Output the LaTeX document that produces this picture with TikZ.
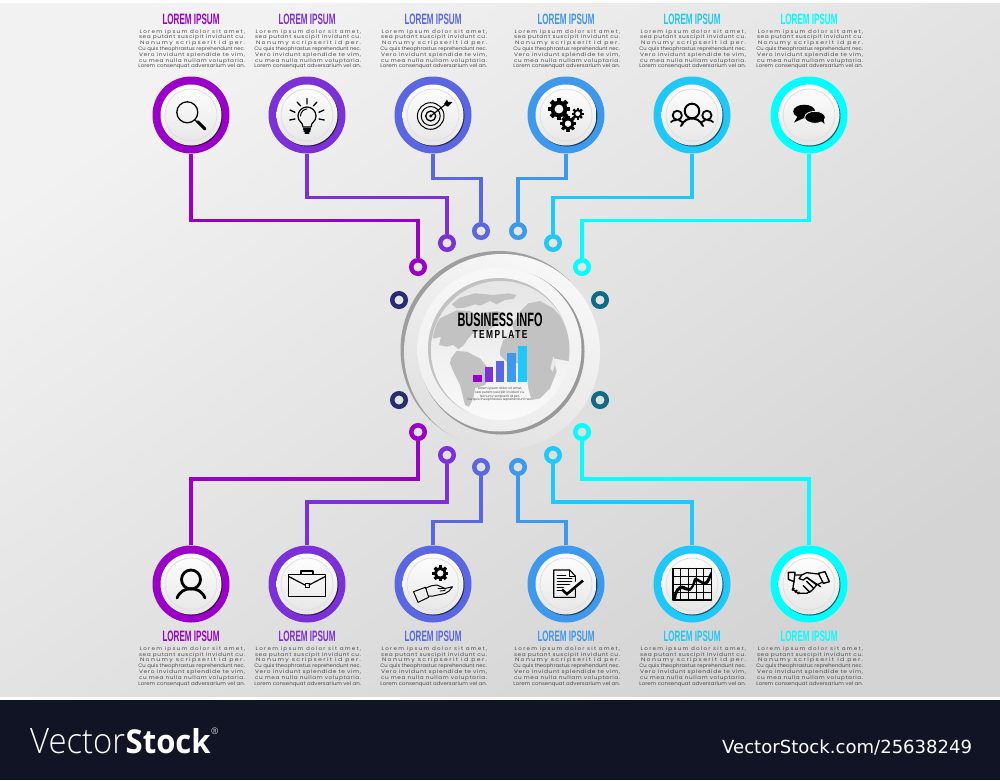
\documentclass[tikz,border=0pt]{standalone}
\usepackage{graphicx}
\usepackage{fontspec}
\setmainfont{Liberation Sans}
\newfontfamily\lsa[LetterSpace=22]{Poppins}
\newfontfamily\lsb[LetterSpace=10]{Poppins}
\newfontfamily\lsc{Poppins}
\newfontfamily\tmplfont[LetterSpace=18]{Liberation Sans}
\newfontfamily\vlight{Open Sans Light}
\newfontfamily\vbold{Open Sans}
\newfontfamily\vurl{DejaVu Sans}
\definecolor{c1}{HTML}{9B00C8}
\definecolor{c2}{HTML}{7B30D8}
\definecolor{c3}{HTML}{5A66E2}
\definecolor{c4}{HTML}{3E98EC}
\definecolor{c5}{HTML}{1EC8F8}
\definecolor{c6}{HTML}{00FFFF}
\definecolor{navyd}{HTML}{2A2C72}
\definecolor{teald}{HTML}{0F6A86}
\definecolor{band}{HTML}{111425}
\definecolor{cont}{HTML}{C2C2C2}
\definecolor{bodyt}{HTML}{4A4A4A}
\newcommand{\lline}[2]{\resizebox{108pt}{\height}{#1 #2}}
\newcommand{\loremblock}{%
\lline{\lsa}{Lorem ipsum dolor sit amet,}\\
\lline{\lsb}{sea putant suscipit invidunt cu.}\\
\lline{\lsa}{Nonumy scripserit id per.}\\
\lline{\lsc}{Cu quis theophrastus reprehendunt nec.}\\
\lline{\lsb}{Vero invidunt splendide te vim,}\\
\lline{\lsb}{cu mea nulla nullam voluptaria.}\\
\lline{\lsc}{Lorem consenquat adversarium vel an.}}
\newcommand{\headtxt}{\resizebox{57pt}{10.5pt}{\bfseries LOREM IPSUM}}
\newcommand{\badge}[4]{%
 \node[ringn,fill=#4] (#1) at (#2,#3) {};
 \fill[black,opacity=.6] (#2+.9,#3+1) circle (30.5);
 \shade[top color=white,bottom color=white!90!black] (#2,#3) circle (30.5);
 \draw[white!88!black,line width=.8pt] (#2,#3) circle (26);
}
\newcommand{\gearic}[3]{%
 \foreach \a in {0,45,...,135}{
  \fill[black,rotate around={\a:(#1,#2)}] (#1-#3*.2,#2-#3) rectangle (#1+#3*.2,#2+#3);}
 \fill[black] (#1,#2) circle (#3*.76);
 \fill[white!97!black] (#1,#2) circle (#3*.4);
}
\tikzset{
 x=1pt,y=-1pt,
 ringn/.style={circle,minimum size=77pt,inner sep=0pt},
 dotn/.style={circle,draw=#1,line width=4.5pt,minimum size=13.5pt,inner sep=0pt},
 conn/.style={draw=#1,line width=3.4pt},
 headn/.style={text=#1,inner sep=0pt,anchor=center},
 bodyn/.style={inner sep=0pt,anchor=north,align=center,text=bodyt,font=\fontsize{5}{5.83}\selectfont},
 ic/.style={draw=black,line width=1pt,line cap=round,line join=round},
}
\begin{document}
\begin{tikzpicture}
\useasboundingbox (0,0) rectangle (1000,780);
\fill[white] (0,0) rectangle (1000,780);
\shade[top color=white!95!black,bottom color=white!83!black,shading angle=35] (0,3) rectangle (1000,696);
\fill[band] (0,700) rectangle (1000,780);

% dots
\foreach \n/\x/\y/\c in {dt1/418/267/c1,dt2/447/243/c2,dt3/481/231/c3,dt4/518/231/c4,dt5/553/243/c5,dt6/582/267/c6,
 db1/418/432/c1,db2/447/455/c2,db3/481/467/c3,db4/518/467/c4,db5/553/455/c5,db6/582/432/c6,
 ds1/399/300/navyd,ds2/600/300/teald,ds3/399/400/navyd,ds4/600/400/teald}{
 \node[dotn=\c] (\n) at (\x,\y) {};
}
% badges
\foreach \n/\x/\c in {1/191/c1,2/307/c2,3/433/c3,4/566/c4,5/692/c5,6/809/c6}{
 \badge{t\n}{\x}{115}{\c}
 \badge{b\n}{\x}{584}{\c}
}
% connectors
\draw[conn=c1] (t1.south) -- ++(0,66.5) -| (dt1.north);
\draw[conn=c2] (t2.south) -- ++(0,43.5) -| (dt2.north);
\draw[conn=c3] (t3.south) -- ++(0,24.5) -| (dt3.north);
\draw[conn=c4] (t4.south) -- ++(0,24.5) -| (dt4.north);
\draw[conn=c5] (t5.south) -- ++(0,43.5) -| (dt5.north);
\draw[conn=c6] (t6.south) -- ++(0,66.5) -| (dt6.north);
\draw[conn=c1] (b1.north) -- ++(0,-66.5) -| (db1.south);
\draw[conn=c2] (b2.north) -- ++(0,-43.5) -| (db2.south);
\draw[conn=c3] (b3.north) -- ++(0,-24) -| (db3.south);
\draw[conn=c4] (b4.north) -- ++(0,-24) -| (db4.south);
\draw[conn=c5] (b5.north) -- ++(0,-43.5) -| (db5.south);
\draw[conn=c6] (b6.north) -- ++(0,-66.5) -| (db6.south);

% headings and bodies
\foreach \n/\x/\c in {1/191/c1,2/307/c2,3/433/c3,4/566/c4,5/692/c5,6/809/c6}{
 \node[headn=\c] (ht\n) at (\x,19.5) {\headtxt};
 \node[bodyn] (lt\n) at (\x,29) {\loremblock};
 \node[headn=\c] (hb\n) at (\x,636) {\headtxt};
 \node[bodyn] (lb\n) at (\x,646.3) {\loremblock};
}

% central disc
\fill[white!62!black] (499,349.5) circle (98.5);
\shade[top color=white!97!black,bottom color=white!88!black,shading angle=-30] (502,352) circle (98);
\fill[white!60!black] (501.5,351.5) circle (83);
\shade[top color=white!97!black,bottom color=white!93!black] (499.5,349.5) circle (82);
\fill[white!76!black] (498.5,348.5) circle (70.5);
\shade[top color=white!90!black,bottom color=white!98!black] (500.5,350.5) circle (69.5);
\begin{scope}
 \clip (500.5,350.5) circle (69);
 \begin{scope}[shift={(425,275)},scale=.3333]
  \fill[cont] (80,88) -- (105,68) -- (150,55) -- (205,60) -- (250,55) -- (275,60) -- (265,72) -- (240,75) -- (215,88) -- (195,78) -- (165,92) -- (150,88) -- (120,98) -- (95,100) -- cycle;
  \fill[cont] (10,190) -- (45,130) -- (95,106) -- (135,108) -- (155,125) -- (185,112) -- (215,108) -- (240,115) -- (215,150) -- (190,165) -- (150,170) -- (130,190) -- (115,212) -- (100,222) -- (85,210) -- (65,215) -- (42,210) -- (48,185) -- (30,190) -- cycle;
  \fill[cont] (78,250) -- (95,228) -- (125,230) -- (165,250) -- (190,280) -- (200,300) -- (180,330) -- (150,340) -- (145,370) -- (132,395) -- (120,390) -- (105,330) -- (85,290) -- (75,265) -- cycle;
  \fill[cont] (225,225) -- (235,195) -- (270,180) -- (262,150) -- (285,110) -- (310,85) -- (345,78) -- (385,100) -- (430,150) -- (440,260) -- (385,250) -- (395,290) -- (375,340) -- (345,370) -- (320,375) -- (310,340) -- (305,300) -- (280,265) -- (245,260) -- (225,240) -- cycle;
  \fill[white!92!black] (385,245) -- (392,262) -- (383,290) -- (376,280) -- cycle;
 \end{scope}
\end{scope}
\node[inner sep=0pt] (biz) at (500,320) {\resizebox{85pt}{13.5pt}{\bfseries BUSINESS INFO}};
\node[inner sep=0pt] (tmpl) at (500,334.5) {\resizebox{55pt}{8pt}{\tmplfont\bfseries TEMPLATE}};
\foreach \n/\xa/\xb/\yy/\c in {1/145/170/300/c1,2/180/204/277/c2,3/214/238/257/c3,4/246/272/235/c4,5/280/306/213/c5}{
 \fill[\c] (425+\xa/3,275+\yy/3) rectangle (425+\xb/3,275+320/3);
}
\node[inner sep=0pt,align=center,text=bodyt,font=\fontsize{3.2}{3.55}\selectfont\lsc] (ctxt) at (500,394.5) {Lorem ipsum dolor sit amet,\\sea putant suscipit invidunt cu.\\Nonumy scripserit id per.\\Cu quis theophrastus reprehendunt nec.};

% icons top
\begin{scope}[shift={(t1.center)}]
 \draw[ic,line width=1.3pt] (-3.7,-2.7) circle (10.5);
 \draw[ic,line width=1.2pt] (3.6,4.6) -- (6.5,7.5);
 \draw[ic,line width=3pt] (6.8,6.8) -- (14,14);
\end{scope}
\begin{scope}[shift={(t2.center)}]
 \draw[ic,line width=1.2pt] (-4,12) .. controls (-4,7) and (-9,7) .. (-9,1) .. controls (-9,-4) and (-5,-8) .. (0,-8) .. controls (5,-8) and (9,-4) .. (9,1) .. controls (9,7) and (4,7) .. (4,12) -- cycle;
 \draw[ic] (-6.5,1) .. controls (-6.5,-3) and (-3,-6) .. (0,-6);
 \draw[ic,line width=1.2pt] (-3.5,14) -- (3.5,14) (-3,16) -- (3,16) (-2,18) -- (2,18);
 \draw[ic,line width=1.3pt] (0,-16.5) -- (0,-11) (-10,-13) -- (-6.3,-9) (10,-13) -- (6.3,-9) (-17,-5) -- (-12,-2.7) (17,-5) -- (12,-2.7) (-17.3,5) -- (-12,4) (17.3,5) -- (12,4);
\end{scope}
\begin{scope}[shift={(t3.center)}]
 \draw[ic] (-2.3,1) circle (13.3) (-2.3,1) circle (9.5);
 \draw[ic,line width=1.3pt] (-2.3,1) circle (5);
 \fill[black] (-2.3,1) circle (1.6);
 \draw[ic,line width=1.1pt] (-2.3,1) -- (13,-11);
 \fill[black] (11,-11) -- (14,-15.5) -- (15,-13.2) -- (19.5,-13) -- (15,-8.5) -- (13,-9) -- cycle;
\end{scope}
\begin{scope}[shift={(t4.center)}]
 \gearic{-7}{-6}{11}
 \gearic{11.7}{-1.3}{6}
 \gearic{2}{8.7}{8}
\end{scope}
\begin{scope}[shift={(t5.center)}]
 \draw[ic,line width=2pt] (0,-4) circle (7.3);
 \draw[ic,line width=2pt] (-11,11) .. controls (-8,5) and (-4,3.5) .. (0,3.5) .. controls (4,3.5) and (8,5) .. (11,11);
 \draw[ic,line width=1.8pt] (-14.7,0.3) circle (4.6) (14.9,0.3) circle (4.6);
 \draw[ic,line width=1.8pt] (-21,7) .. controls (-19.5,5.5) and (-18,5) .. (-16,5.2) (-13,5.2) -- (-9,7.5) (21,7) .. controls (19.5,5.5) and (18,5) .. (16,5.2) (13,5.2) -- (9,7.5);
\end{scope}
\begin{scope}[shift={(t6.center)}]
 \fill[black] (-4.8,-3.5) ellipse (11 and 6.8);
 \fill[black] (-11,1) -- (-15,7.5) -- (-5,3) -- cycle;
 \fill[black,draw=white!96!black,line width=.8pt] (6,2.3) ellipse (10.3 and 6);
 \fill[black] (11,5) -- (15.5,9) -- (14.5,3) -- cycle;
\end{scope}
% icons bottom
\begin{scope}[shift={(b1.center)}]
 \draw[ic,line width=2.8pt] (0,-4.5) circle (9.5);
 \draw[ic,line width=2.8pt] (-14,14) .. controls (-11,7) and (-6,4.8) .. (0,4.8) .. controls (6,4.8) and (11,7) .. (14,14);
\end{scope}
\begin{scope}[shift={(b2.center)}]
 \draw[ic,line width=1.3pt] (-18.3,-9.7) rectangle (18.3,12.7);
 \draw[ic,line width=1.2pt] (-6,-9.7) -- (-6,-13) -- (6,-13) -- (6,-9.7);
 \draw[ic,line width=1.2pt] (-18.3,-7.5) -- (-2,1) (2,1) -- (18.3,-7.5);
 \draw[ic] (-2,-.5) rectangle (2,3);
\end{scope}
\begin{scope}[shift={(b3.center)}]
 \gearic{7.3}{-10.7}{8}
 \draw[ic,line width=1pt] (-19.5,7.7) -- (-7.5,3.3) -- (-4.3,13.3) -- (-15,18.3) -- cycle;
 \draw[ic,line width=1pt] (-7.5,4.3) .. controls (-3,2) and (0,1) .. (4,1) -- (12,4.5) -- (19.5,2.7) .. controls (18,6) and (15,8) .. (12,9.5) -- (0,12) -- (-4.3,12);
 \draw[ic,line width=.9pt] (5,4.5) -- (12,4.5) -- (12,6.5) -- (7,7);
\end{scope}
\begin{scope}[shift={(b4.center)}]
 \draw[ic,line width=1.1pt] (-12.3,-14) -- (3.7,-14) -- (9.3,-8) -- (9.3,13.3) -- (-12.3,13.3) -- cycle;
 \draw[ic,line width=.7pt] (3.7,-14) -- (3.7,-8) -- (9.3,-8);
 \draw[ic,line width=.7pt] (-9,-9) -- (0,-9) (-9,-6) -- (6,-6) (-9,-3) -- (6,-3) (-9,0) -- (6,0) (-9,3) -- (1,3) (-9,6) -- (-3,6);
 \fill[white!97!black] (-5,5) -- (1,12) -- (18,-3) -- (15,-5) -- cycle;
 \draw[ic,line width=2.6pt,line cap=butt,line join=miter] (-4,5.5) -- (1,10) -- (17,-3.5);
\end{scope}
\begin{scope}[shift={(b5.center)}]
 \draw[ic,line width=1.1pt,line cap=butt] (-19,-15.7) rectangle (19.3,16);
 \foreach \gx in {-11.3,-3.6,4,11.7}{\draw[ic,line width=.7pt] (\gx,-15.7) -- (\gx,16);}
 \foreach \gy in {-7.8,.1,8}{\draw[ic,line width=.7pt] (-19,\gy) -- (19.3,\gy);}
 \fill[black] (-18.5,15) .. controls (-18,5) and (-14,2) .. (-10,1.5) .. controls (-6,2) and (-5,5) .. (-2,4) .. controls (1,2) and (1,-6) .. (3,-6.5) .. controls (6,-6) and (9,-3) .. (12,-2) .. controls (15,-2) and (16,-8) .. (19,-12.5) -- (19,-7) .. controls (18,-3) and (16,1) .. (12,1) .. controls (9,0) and (6,-3) .. (4,-3) .. controls (3,0) and (1,5) .. (-2,7) .. controls (-5,8) and (-7,5) .. (-10,5) .. controls (-14,6) and (-15,9) .. (-16,15) -- cycle;
\end{scope}
\begin{scope}[shift={(b6.center)},scale=.3333]
 \draw[ic,line width=1.4pt] (-62,-35) -- (-42,-35) -- (-45,-7) -- (-62,-14) -- cycle;
 \draw[ic,line width=1.4pt] (28,-32) -- (48,-37) -- (61,-7) -- (43,-2) -- cycle;
 \draw[ic,line width=1.3pt] (-42,-27) -- (-22,-27) -- (-7,-34) -- (28,-30);
 \draw[ic,line width=1.3pt] (41,-6) -- (23,3) -- (8,20) -- (-7,28) -- (-32,28) -- (-49,16) -- (-45,-7);
 \draw[ic,line width=1.3pt] (-22,-27) -- (-30,-16) -- (-17,-12) -- (-7,-20) -- (23,3);
 \draw[ic,line width=1.3pt] (-7,-20) -- (35,8) (-7,-8) -- (15,14) (-17,5) -- (3,25);
 \draw[black,line width=3pt,dash pattern=on 2pt off 1.5pt] (-50,14) -- (-30,28);
\end{scope}

% footer
\node[inner sep=0pt,anchor=base west,text=white] (vs1) at (30,753) {\resizebox{95pt}{25pt}{\vlight Vector}};
\node[inner sep=0pt,anchor=base west,text=white] (vs2) at (125.5,753) {\resizebox{85pt}{25pt}{\vbold\bfseries Stock}};
\node[inner sep=0pt,anchor=west,text=white,font=\fontsize{9}{9}\selectfont\vlight] (vs3) at (211,731.5) {®};
\node[inner sep=0pt,anchor=base west,text=white] (vs4) at (722,753.5) {\resizebox{250pt}{\height}{\fontsize{18}{18}\selectfont\vurl VectorStock.com/25638249}};
\end{tikzpicture}
\end{document}
